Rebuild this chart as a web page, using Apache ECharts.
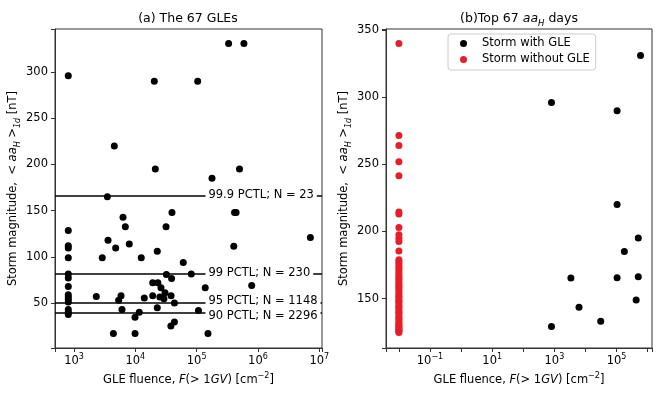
<!DOCTYPE html>
<html>
<head>
<meta charset="utf-8">
<script src="https://cdn.jsdelivr.net/npm/echarts@6/dist/echarts.min.js"></script>
<style>html,body{margin:0;padding:0;background:#fff}#main{width:665px;height:399px}</style>
</head>
<body>
<div id="main"></div>
<script>
// (a) the 67 GLEs: fluence F(>1GV) vs storm magnitude <aa_H>_1d
var gleFluence = [807, 20400, 104000, 332000, 590000, 4540, 21200, 500000, 178000, 3500,
  39600, 415000, 440000, 6300, 6870, 31700, 807, 3590, 7970, 807,
  807, 4780, 22800, 403000, 7160000, 807, 2890, 12500, 60500, 807,
  807, 32100, 81800, 39000, 807, 19200, 23300, 26200, 138000, 790000,
  30500, 2310, 5850, 14000, 19200, 25100, 29300, 38300, 807, 807,
  807, 807, 5350, 43400, 807, 807, 807, 6060, 22800, 107000,
  11600, 9890, 43400, 38000, 4390, 9900, 153000];
var gleStorm = [296, 290, 290, 331, 331, 220, 195, 195, 185, 165,
  148, 148, 148, 143, 132.5, 132.5, 128.5, 118, 114, 112,
  109.5, 109.5, 106, 111.5, 121, 99, 99, 99, 94, 81.5,
  77, 81, 81.5, 76.5, 68, 72, 72, 66.5, 66.5, 69,
  61, 57, 58, 55.5, 58, 56.5, 54.5, 58, 59, 56.5,
  54, 51, 53, 50, 43, 40, 37.5, 43, 45, 42,
  40, 34.5, 29.5, 25, 17, 17, 17];

// percentile thresholds
var pctlValues = [166, 81.5, 50.7, 40];
var pctlLabelY = [166, 81.5, 51.5, 35];
var pctlLabels = ['99.9 PCTL; N = 23', '99 PCTL; N = 230', '95 PCTL; N = 1148', '90 PCTL; N = 2296'];

// (b) top 67 aa_H days
var withGleFluence = [807, 104000, 590000, 104000, 500000, 178000, 3400, 104000, 500000, 427000, 6200, 31000, 807];
var withGleStorm = [296, 290, 331, 220, 195.2, 185, 165.3, 165.6, 166.3, 149, 143.6, 133.2, 129.3];
var noGleFluence = 0.01; // plotted at 1e-2
var noGleStorm = [340, 271.5, 264, 252, 241.5, 214.5, 213, 203, 197.5, 195, 192.5, 185.5, 179,
  177.5, 176, 174, 172.5, 171, 169, 167.5, 166, 165, 163.5, 162, 160.5, 159, 158,
  156.5, 155, 153.5, 152, 151, 149.5, 148, 147, 145.5, 144, 143, 141.5, 140, 139,
  137.5, 136, 135, 133.5, 132, 131, 130, 129, 128, 127, 126, 125.5, 124.8];

var FONT = 'DejaVu Sans';
var AXIS = '#333';
var RED = '#ea1d27';

function pairs(xs, ys) {
  var out = [];
  for (var i = 0; i < ys.length; i++) out.push([Array.isArray(xs) ? xs[i] : xs, ys[i]]);
  return out;
}

function logLabel(skipEven) {
  return function (v) {
    var l = Math.log(v) / Math.LN10;
    var e = Math.round(l);
    if (Math.abs(l - e) > 0.01) return '';
    if (skipEven && e % 2 === 0) return '';
    var s = e < 0 ? '\u2212' + (-e) : '' + e;
    return '{b|10}{s|' + s + '}';
  };
}
function yLabel(v) {
  return Math.abs(v % 50) < 0.001 ? String(Math.round(v)) : '';
}

var tickRich = {
  b: { fontSize: 11.5, fontFamily: FONT, color: '#000', verticalAlign: 'bottom' },
  s: { fontSize: 8, fontFamily: FONT, color: '#000', verticalAlign: 'bottom', padding: [0, 0, 6, 0] }
};
var nameRich = {
  i: { fontSize: 11.5, fontFamily: FONT, fontStyle: 'italic', color: '#000', verticalAlign: 'bottom' },
  n: { fontSize: 11.5, fontFamily: FONT, color: '#000', verticalAlign: 'bottom' },
  sub: { fontSize: 8, fontFamily: FONT, fontStyle: 'italic', color: '#000', verticalAlign: 'bottom', padding: [0, 0, -3, 0] },
  sup: { fontSize: 8, fontFamily: FONT, color: '#000', verticalAlign: 'bottom', padding: [0, 0, 6, 0] }
};
var xName = '{n|GLE fluence, }{i|F}{n|(> 1}{i|GV}{n|) [cm}{sup|\u22122}{n|]}';
var yName = '{n|Storm magnitude,  < }{i|aa}{sub|H}{n| >}{sub|1d}{n| [nT]}';

function xAxisBase(idx, min, max, skipEven) {
  return {
    gridIndex: idx, type: 'log', logBase: 10, min: min, max: max,
    axisLine: { show: true, lineStyle: { color: AXIS, width: 1 } },
    axisTick: { show: true, length: 4, lineStyle: { color: AXIS } },
    axisLabel: { formatter: logLabel(skipEven), rich: tickRich, margin: 5 },
    splitLine: { show: false },
    name: xName, nameLocation: 'middle', nameGap: 20,
    nameTextStyle: { rich: nameRich }
  };
}
function yAxisBase(idx, min, max) {
  return {
    gridIndex: idx, type: 'value', min: min, max: max,
    axisLine: { show: true, lineStyle: { color: AXIS, width: 1 } },
    axisTick: { show: true, length: 4, lineStyle: { color: AXIS } },
    axisLabel: { formatter: yLabel, fontSize: 11.5, fontFamily: FONT, color: '#000', margin: 7 },
    splitLine: { show: false },
    name: yName, nameLocation: 'middle', nameGap: 32,
    nameTextStyle: { rich: nameRich }
  };
}

var markLineData = pctlValues.map(function (v) { return { yAxis: v }; });
var markPointData = pctlLabels.map(function (t, i) {
  return { name: t, coord: [142000, pctlLabelY[i]] };
});

var option = {
  animation: false,
  backgroundColor: '#fff',
  textStyle: { fontFamily: FONT },
  title: [
    { text: '(a) The 67 GLEs', left: 188, top: 12, padding: 0, textAlign: 'center',
      textStyle: { fontSize: 12.5, fontWeight: 'normal', color: '#000', fontFamily: FONT } },
    { text: '{n|(b)Top 67 }{i|aa}{sub|H}{n| days}', left: 519, top: 12, padding: 0, textAlign: 'center',
      textStyle: { fontSize: 12.5, fontWeight: 'normal', color: '#000', fontFamily: FONT,
        rich: {
          n: { fontSize: 12.5, fontFamily: FONT, color: '#000', verticalAlign: 'bottom' },
          i: { fontSize: 12.5, fontFamily: FONT, fontStyle: 'italic', color: '#000', verticalAlign: 'bottom' },
          sub: { fontSize: 8.5, fontFamily: FONT, fontStyle: 'italic', color: '#000', verticalAlign: 'bottom', padding: [0, 0, -3, 0] }
        } } }
  ],
  legend: {
    data: ['Storm with GLE', 'Storm without GLE'],
    orient: 'vertical', left: 448, top: 34,
    padding: [3, 6, 4, 12],
    itemWidth: 7, itemHeight: 7, itemGap: 3, icon: 'circle',
    borderColor: '#ccc', borderWidth: 1, borderRadius: 3, backgroundColor: '#fff',
    textStyle: { fontSize: 11.5, fontFamily: FONT, color: '#000', lineHeight: 13, padding: [0, 0, 0, 10] }
  },
  grid: [
    { left: 55, top: 29, width: 267, height: 319, show: true, borderColor: AXIS, borderWidth: 1, backgroundColor: 'transparent' },
    { left: 386, top: 29, width: 266, height: 319, show: true, borderColor: AXIS, borderWidth: 1, backgroundColor: 'transparent' }
  ],
  xAxis: [
    xAxisBase(0, 490, 11070000, false),
    xAxisBase(1, 0.003846, 1380000, true)
  ],
  yAxis: [
    yAxisBase(0, 1.3, 346.7),
    yAxisBase(1, 113.2, 350.8)
  ],
  series: [
    {
      name: 'The 67 GLEs', type: 'scatter', xAxisIndex: 0, yAxisIndex: 0,
      symbolSize: 7, itemStyle: { color: '#000', opacity: 1 },
      data: pairs(gleFluence, gleStorm),
      markLine: {
        silent: true, symbol: ['none', 'none'], z: 3,
        lineStyle: { color: '#000', width: 1.5, type: 'solid' },
        label: { show: false },
        data: markLineData
      },
      markPoint: {
        silent: true, symbol: 'rect', symbolSize: 1, z: 10,
        itemStyle: { color: 'rgba(0,0,0,0)' },
        label: {
          show: true, formatter: '{b}', position: [0, 0], align: 'left', verticalAlign: 'middle',
          fontSize: 11.5, fontFamily: FONT, color: '#000', backgroundColor: '#fff', padding: [2, 3, 1, 3]
        },
        data: markPointData
      }
    },
    {
      name: 'Storm with GLE', type: 'scatter', xAxisIndex: 1, yAxisIndex: 1,
      symbolSize: 7, itemStyle: { color: '#000', opacity: 1 },
      data: pairs(withGleFluence, withGleStorm)
    },
    {
      name: 'Storm without GLE', type: 'scatter', xAxisIndex: 1, yAxisIndex: 1,
      symbolSize: 7, itemStyle: { color: RED, opacity: 1 },
      data: pairs(noGleFluence, noGleStorm)
    }
  ]
};

myChart = echarts.init(document.getElementById('main'));
myChart.setOption(option);
</script>
</body>
</html>
